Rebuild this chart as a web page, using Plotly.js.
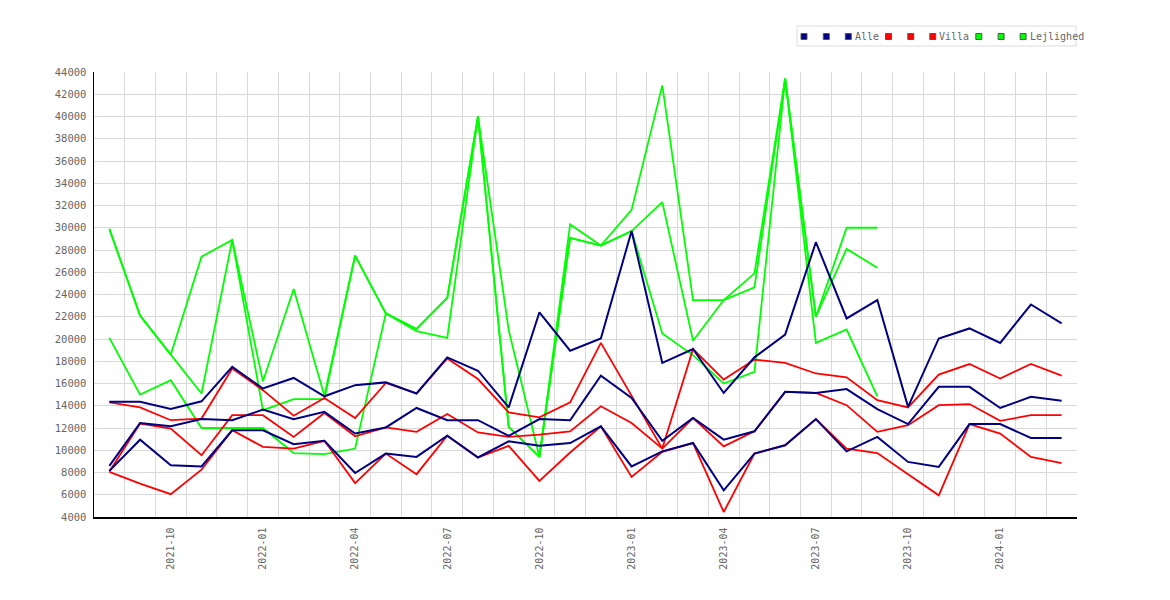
<!DOCTYPE html>
<html lang="da">

<head>
    <meta charset="utf-8">
    <title>Kvadratmeterpriser</title>
    <script src="https://cdn.plot.ly/plotly-3.0.1.min.js"></script>
    <style>
        html,
        body {
            margin: 0;
            padding: 0;
            background: #fff;
        }

        #plot {
            width: 1170px;
            height: 600px;
        }
    </style>
</head>

<body>
    <div id="plot"></div>

    <script>
        // Months shown on the x axis, one point per month.
        const months = [
            '2021-08', '2021-09', '2021-10', '2021-11', '2021-12',
            '2022-01', '2022-02', '2022-03', '2022-04', '2022-05', '2022-06',
            '2022-07', '2022-08', '2022-09', '2022-10', '2022-11', '2022-12',
            '2023-01', '2023-02', '2023-03', '2023-04', '2023-05', '2023-06',
            '2023-07', '2023-08', '2023-09', '2023-10', '2023-11', '2023-12',
            '2024-01', '2024-02', '2024-03'
        ];

        // Alle
        const alle1 = [14350, 14350, 13700, 14400, 17500, 15550, 16500, 14850, 15850, 16100, 15100,
            18350, 17150, 13850, 22400, 18950, 20050, 29700, 17850, 19100, 15150, 18350,
            20400, 28700, 21850, 23500, 13900, 20050, 20950, 19650, 23100, 21400];
        const alle2 = [8600, 12450, 12150, 12800, 12700, 13650, 12800, 13450, 11500, 12050, 13800,
            12700, 12700, 11300, 12800, 12700, 16700, 14700, 10850, 12900, 10950, 11700,
            15250, 15150, 15500, 13700, 12350, 15700, 15700, 13800, 14800, 14450];
        const alle3 = [8150, 10950, 8650, 8550, 11800, 11800, 10550, 10850, 7950, 9700, 9400,
            11300, 9350, 10800, 10400, 10650, 12150, 8550, 9900, 10650, 6400, 9700,
            10450, 12800, 9900, 11200, 8950, 8500, 12350, 12350, 11100, 11100];

        // Villa
        const villa1 = [14300, 13850, 12700, 12850, 17350, 15400, 13100, 14700, 12900, 16050, 15100,
            18250, 16400, 13400, 12950, 14300, 19650, 14900, 10150, 19100, 16350, 18150,
            17850, 16900, 16550, 14500, 13850, 16800, 17750, 16450, 17750, 16700];
        const villa2 = [8100, 12400, 11950, 9550, 13150, 13150, 11200, 13350, 11250, 12050, 11650,
            13250, 11600, 11200, 11400, 11700, 13950, 12450, 10150, 12900, 10350, 11700,
            15250, 15150, 14050, 11650, 12250, 14050, 14150, 12650, 13150, 13150];
        const villa3 = [8050, 7000, 6050, 8250, 11800, 10300, 10150, 10850, 7050, 9700, 7850,
            11300, 9350, 10400, 7250, 9800, 12150, 7600, 9850, 10650, 4450, 9700,
            10450, 12800, 10150, 9750, 7850, 5950, 12350, 11500, 9400, 8850];

        // Lejlighed (stops at 2023-09)
        const lejl1 = [29900, 22100, 18600, 15100, 28900, 16200, 24500, 14900, 27500, 22300, 20900,
            23700, 40000, 12100, 9400, 29100, 28400, 31600, 42800, 23500, 23500, 24650,
            43400, 22000, 30000, 30000];
        const lejl2 = [29900, 22100, 18600, 27400, 28900, 13600, 14600, 14600, 27500, 22300, 20700,
            20100, 40000, 20800, 9400, 30300, 28400, 29700, 32300, 19850, 23500, 25900,
            43400, 22000, 28100, 26400];
        const lejl3 = [20100, 15000, 16300, 12000, 12000, 12000, 9750, 9650, 10150, 22300, 20900,
            23700, 40000, 12100, 9400, 29100, 28400, 29700, 20500, 18550, 16000, 17050,
            43400, 19650, 20850, 14850];

        const groupNames = ['Alle', 'Villa', 'Lejlighed'];
        const groupColors = ['#000080', '#ff0000', '#00ff00'];
        const groupSeries = [[alle1, alle2, alle3], [villa1, villa2, villa3], [lejl1, lejl2, lejl3]];

        const FONT = 'DejaVu Sans Mono, monospace';
        const TEXT_COLOR = '#666';
        const GRID = '#d9d9d9';

        // plot area in pixels, used to place the hand made legend
        const L = 94, R = 1077, T = 72, B = 517;
        const px = function (x) { return (x - L) / (R - L); };
        const py = function (y) { return (B - y) / (B - T); };

        const idx = months.map(function (m, i) { return i; });
        const tickIdx = idx.filter(function (i) {
            return ['01', '04', '07', '10'].includes(months[i].slice(5));
        });

        // lines: draw Lejlighed first so Alle ends up on top
        const data = [];
        for (let g = groupNames.length - 1; g >= 0; g -= 1) {
            groupSeries[g].forEach(function (ys) {
                data.push({
                    x: idx.slice(0, ys.length),
                    y: ys,
                    type: 'scatter',
                    mode: 'lines',
                    name: groupNames[g],
                    showlegend: false,
                    line: { color: groupColors[g], width: g === 0 ? 2 : 1.8 }
                });
            });
        }

        // legend: three little squares per group, the name after the last one
        const shapes = [];
        const annotations = [];
        const legY = 36.5;
        const charW = 5.8;
        let mx = 804;
        shapes.push({
            type: 'rect', xref: 'paper', yref: 'paper',
            x0: px(797), x1: px(1076), y0: py(46), y1: py(26),
            line: { color: '#dcdcdc', width: 1 }, fillcolor: 'rgba(0,0,0,0)'
        });
        groupNames.forEach(function (name, g) {
            const starts = [mx, mx + 22.3, mx + 44.3];
            starts.forEach(function (sx) {
                shapes.push({
                    type: 'rect', xref: 'paper', yref: 'paper',
                    x0: px(sx - 3), x1: px(sx + 3), y0: py(legY + 3), y1: py(legY - 3),
                    fillcolor: groupColors[g], line: { color: '#555', width: 1 }
                });
            });
            annotations.push({
                text: name, xref: 'paper', yref: 'paper',
                x: px(mx + 44.3 + 4.5), y: py(legY), xanchor: 'left', yanchor: 'middle',
                showarrow: false, font: { family: FONT, size: 10, color: TEXT_COLOR }
            });
            mx += 44.3 + 6.7 + charW * name.length + 10.3;
        });

        const layout = {
            width: 1170,
            height: 600,
            autosize: false,
            margin: { l: L, r: 1170 - R, t: T, b: 600 - B, pad: 0 },
            paper_bgcolor: '#fff',
            plot_bgcolor: '#fff',
            font: { family: FONT, size: 10, color: TEXT_COLOR },
            showlegend: false,
            xaxis: {
                type: 'linear',
                range: [-0.5, months.length - 0.5],
                tickmode: 'array',
                tickvals: tickIdx,
                ticktext: tickIdx.map(function (i) { return months[i]; }),
                tickangle: -90,
                tickfont: { family: FONT, size: 10, color: TEXT_COLOR },
                ticks: 'outside',
                ticklen: 5,
                tickcolor: 'rgba(0,0,0,0)',
                showgrid: false,
                minor: {
                    tickmode: 'linear',
                    tick0: 0.5,
                    dtick: 1,
                    showgrid: true,
                    gridcolor: GRID,
                    gridwidth: 1,
                    ticks: ''
                },
                zeroline: false,
                showline: true,
                linecolor: '#000',
                linewidth: 1.5,
                fixedrange: true
            },
            yaxis: {
                range: [4000, 44000],
                tick0: 4000,
                dtick: 2000,
                tickformat: 'd',
                tickfont: { family: FONT, size: 10.5, color: TEXT_COLOR },
                ticks: 'outside',
                ticklen: 4,
                tickcolor: 'rgba(0,0,0,0)',
                showgrid: true,
                gridcolor: GRID,
                gridwidth: 1,
                zeroline: false,
                showline: true,
                linecolor: '#000',
                linewidth: 1.5,
                fixedrange: true
            },
            shapes: shapes,
            annotations: annotations
        };

        Plotly.newPlot('plot', data, layout, { displayModeBar: false, staticPlot: true });
    </script>
</body>

</html>
